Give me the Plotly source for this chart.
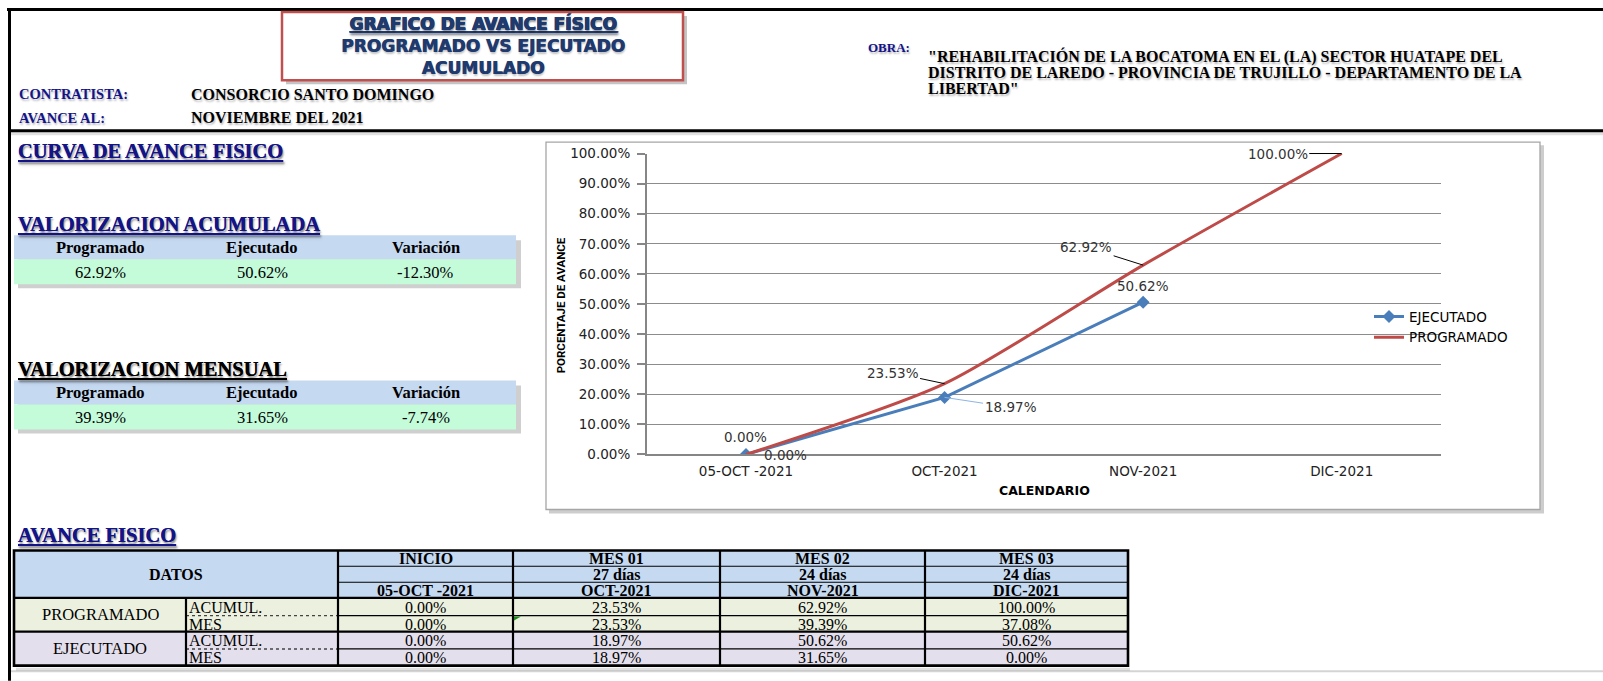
import plotly.graph_objects as go

W, H = 1603, 681
# the page sits 8px down and is scaled a little vertically; paper
# coordinates below are computed against the visible page pixels
OFF, SC = 7.9, 0.9757

# ---- data -----------------------------------------------------------------
categories = ["05-OCT -2021", "OCT-2021", "NOV-2021", "DIC-2021"]
periodos = ["INICIO", "MES 01", "MES 02", "MES 03"]
dias = ["", "27 días", "24 días", "24 días"]
programado_acum = [0.00, 23.53, 62.92, 100.00]
programado_mes = [0.00, 23.53, 39.39, 37.08]
ejecutado_acum = [0.00, 18.97, 50.62, 50.62]
ejecutado_mes = [0.00, 18.97, 31.65, 0.00]
n_ejecutado = 3  # executed curve runs up to NOV-2021

resumen_titulos = ["Programado", "Ejecutado", "Variación"]
resumen_acumulada = [62.92, 50.62, -12.30]
resumen_mensual = [39.39, 31.65, -7.74]

obra_lineas = [
    "\"REHABILITACIÓN DE LA BOCATOMA EN EL (LA) SECTOR HUATAPE DEL",
    "DISTRITO DE LAREDO - PROVINCIA DE TRUJILLO - DEPARTAMENTO DE LA",
    "LIBERTAD\"",
]

# ---- styles ---------------------------------------------------------------
SERIF = "Liberation Serif, Times New Roman, serif"
SANS = "DejaVu Sans, Verdana, sans-serif"
NAVY = "#14148a"
BLUE_HDR = "#c5d9f1"
MINT = "#c4fcda"
ROW_PROG = "#ebf1de"
ROW_EJEC = "#e4dfec"
SHADOW = "1px 2px 2px rgba(0,0,0,0.28)"
C_EJEC = "#4a7ebb"
C_PROG = "#be4b48"
TITLE_C = "#1f3a6e"

shapes = []
annotations = []


def fx(x):
    return x / W


def fy(y):
    return 1 - ((y - OFF) / SC) / H


def rect(x0, y0, x1, y1, fill=None, line=None, lw=0):
    shapes.append(dict(type="rect", xref="paper", yref="paper",
                       x0=fx(x0), x1=fx(x1), y0=fy(y1), y1=fy(y0),
                       fillcolor=fill or "rgba(0,0,0,0)",
                       line=dict(color=line or "rgba(0,0,0,0)", width=lw),
                       layer="below"))


def seg(x0, y0, x1, y1, color="#000", w=1, dash="solid"):
    shapes.append(dict(type="line", xref="paper", yref="paper",
                       x0=fx(x0), x1=fx(x1), y0=fy(y0), y1=fy(y1),
                       line=dict(color=color, width=w, dash=dash), layer="below"))


def text(x, y, s, size, color="#000", family=SERIF, weight="normal",
         xanchor="center", shadow=None):
    f = dict(size=size, color=color, family=family, weight=weight)
    if shadow:
        f["shadow"] = shadow
    annotations.append(dict(xref="paper", yref="paper", x=fx(x), y=fy(y),
                            text=s, showarrow=False, xanchor=xanchor,
                            yanchor="middle", font=f,
                            align="left" if xanchor == "left" else "center"))


def pct(v):
    return f"{v:.2f}%"


# ---- page frame -----------------------------------------------------------
seg(7, 9.5, W, 9.5, "#000", 3)
seg(9.5, 8, 9.5, 680, "#000", 3)
seg(10, 130.5, W, 130.5, "#000", 3)
seg(10, 133.5, W, 133.5, "rgba(0,0,0,0.12)", 3)
seg(11, 670.5, W, 670.5, "#d4d4d4", 2)

# ---- header ---------------------------------------------------------------
rect(286, 16, 687, 84, fill="#c4c4c4")
rect(282, 12, 683, 80, fill="#ffffff", line="#c0504d", lw=2.5)
text(483, 45, "<u>GRAFICO DE AVANCE FÍSICO</u><br>PROGRAMADO VS EJECUTADO<br>ACUMULADO",
     17, TITLE_C, SANS, "bold",
     shadow=f"0.8px 0 0 {TITLE_C}, 1px 2px 2px rgba(0,0,0,0.25)")

text(17, 94, "CONTRATISTA:", 14.5, NAVY, SERIF, "bold", "left", SHADOW)
text(189, 94, "CONSORCIO SANTO DOMINGO", 16, "#000", SERIF, "bold", "left", SHADOW)
text(17, 117.5, "AVANCE AL:", 14.5, NAVY, SERIF, "bold", "left", SHADOW)
text(189, 117.5, "NOVIEMBRE DEL 2021", 16, "#000", SERIF, "bold", "left", SHADOW)

text(866, 47.5, "OBRA:", 13, NAVY, SERIF, "bold", "left", SHADOW)
for i, ln in enumerate(obra_lineas):
    text(926, 56 + 16.2 * i, ln, 16, "#000", SERIF, "bold", "left", SHADOW)

# ---- left summary blocks --------------------------------------------------
text(16, 151, "<u>CURVA DE AVANCE FISICO</u>", 20.5, NAVY, SERIF, "bold", "left", SHADOW)
text(16, 224, "<u>VALORIZACION ACUMULADA</u>", 20.5, NAVY, SERIF, "bold", "left", SHADOW)
text(16, 369, "<u>VALORIZACION MENSUAL</u>", 20.5, "#000", SERIF, "bold", "left", SHADOW)

col_cx = [100, 262, 426]
for top, vals in ((235, resumen_acumulada), (380, resumen_mensual)):
    rect(18, top + 5, 521, top + 53, fill="#cfcfcf")
    rect(14, top, 516, top + 24, fill=BLUE_HDR)
    rect(14, top + 24, 516, top + 49, fill=MINT)
    for cx, t, v in zip(col_cx, resumen_titulos, vals):
        text(cx, top + 12, t, 16.5, "#000", SERIF, "bold")
        text(cx, top + 37, pct(v), 16.5, "#000", SERIF)

# ---- bottom table ---------------------------------------------------------
text(16, 534, "<u>AVANCE FISICO</u>", 20.5, NAVY, SERIF, "bold", "left", SHADOW)

xs = [14, 186, 338, 513, 720, 925, 1128]
ys = [550, 565.7, 581.7, 597.3, 615, 631, 648.3, 665]
rect(16, 667, 1130, 670, fill="rgba(0,0,0,0.12)")
rect(xs[0], ys[0], xs[-1], ys[3], fill=BLUE_HDR)
rect(xs[0], ys[3], xs[-1], ys[5], fill=ROW_PROG)
rect(xs[0], ys[5], xs[-1], ys[7], fill=ROW_EJEC)

text((xs[0] + xs[2]) / 2, 574, "DATOS", 16, "#000", SERIF, "bold")
hdr_rows = [periodos, dias, categories]
for r, row in enumerate(hdr_rows):
    yc = (ys[r] + ys[r + 1]) / 2
    for c, t in enumerate(row):
        if t:
            text((xs[c + 2] + xs[c + 3]) / 2, yc + 0.5, t, 16, "#000", SERIF, "bold")

text((xs[0] + xs[1]) / 2, (ys[3] + ys[5]) / 2, "PROGRAMADO", 16.5, "#000", SERIF)
text((xs[0] + xs[1]) / 2, (ys[5] + ys[7]) / 2, "EJECUTADO", 16.5, "#000", SERIF)
body = [("ACUMUL.", programado_acum), ("MES", programado_mes),
        ("ACUMUL.", ejecutado_acum), ("MES", ejecutado_mes)]
for r, (lab, vals) in enumerate(body):
    yc = (ys[r + 3] + ys[r + 4]) / 2
    text(xs[1] + 1, yc + 0.5, lab, 16, "#000", SERIF, "normal", "left")
    for c, v in enumerate(vals):
        text((xs[c + 2] + xs[c + 3]) / 2, yc + 0.5, pct(v), 16, "#000", SERIF)

# grid lines of the table
for y in (ys[1], ys[2]):
    seg(xs[2], y, xs[-1], y, "#000", 1.2)
for y in (ys[4], ys[6]):
    seg(xs[1], y, xs[2], y, "#444", 1.4, "dot")
    seg(xs[2], y, xs[-1], y, "#000", 1.2)
for y in (ys[3], ys[5]):
    seg(xs[0], y, xs[-1], y, "#000", 2.2)
seg(xs[1], ys[3], xs[1], ys[7], "#000", 2.2)
for x in xs[2:-1]:
    seg(x, ys[0], x, ys[7], "#000", 2.2)
rect(xs[0], ys[0], xs[-1], ys[7], line="#000", lw=2.6)
shapes.append(dict(type="path", xref="paper", yref="paper", layer="above",
                   path=f"M {fx(514)} {fy(615.8)} L {fx(521)} {fy(615.8)} L {fx(514)} {fy(620)} Z",
                   fillcolor="#1a8a1a", line=dict(width=0)))

# ---- chart frame ----------------------------------------------------------
rect(549, 145, 1544, 513, fill="#cdcdcd")
rect(546, 142, 1540, 509, fill="#ffffff", line="#a6a6a6", lw=1.3)

fig = go.Figure()
fig.add_trace(go.Scatter(
    x=categories[:n_ejecutado], y=[v / 100 for v in ejecutado_acum[:n_ejecutado]],
    name="EJECUTADO", mode="lines+markers", legendgroup="e",
    line=dict(color=C_EJEC, width=3),
    marker=dict(symbol="diamond", size=10, color=C_EJEC)))
fig.add_trace(go.Scatter(
    x=categories, y=[v / 100 for v in programado_acum],
    name="PROGRAMADO", mode="lines", legendgroup="p",
    line=dict(color=C_PROG, width=3, shape="spline", smoothing=0.7)))

# point labels
LBL = dict(size=13.5, color="#333333", family=SANS)


def point_label(i, v, xshift=0, yshift=0, ax=None, ay=None, arrow="#000"):
    a = dict(xref="x", yref="y", x=categories[i], y=v / 100, text=pct(v), font=LBL)
    if ax is None:
        a.update(showarrow=False, xshift=xshift, yshift=yshift)
    else:
        a.update(showarrow=True, ax=ax, ay=ay, arrowhead=0, arrowwidth=1,
                 arrowcolor=arrow, standoff=0)
    annotations.append(a)


point_label(0, programado_acum[0], yshift=17)
point_label(0, ejecutado_acum[0], xshift=40, yshift=-1)
point_label(1, programado_acum[1], ax=-52, ay=-11)
point_label(1, ejecutado_acum[1], ax=66, ay=10, arrow="#8eb4e3")
point_label(2, programado_acum[2], ax=-57, ay=-18)
point_label(2, ejecutado_acum[2], yshift=16)
point_label(3, programado_acum[3], ax=-64, ay=0)

# axis titles
annotations.append(dict(xref="paper", yref="paper", x=fx(561), y=fy(305),
                        xanchor="center", yanchor="middle",
                        text="PORCENTAJE DE AVANCE", textangle=-90, showarrow=False,
                        font=dict(size=11.5, family="Liberation Sans Narrow, Roboto, sans-serif",
                                  weight="bold", color="#000")))
annotations.append(dict(xref="paper", yref="paper", x=fx(1044), y=fy(490),
                        xanchor="center", yanchor="middle",
                        text="CALENDARIO", showarrow=False,
                        font=dict(size=12.5, family=SANS, weight="bold", color="#000")))

fig.update_layout(
    width=W, height=H, margin=dict(l=0, r=0, t=0, b=0),
    paper_bgcolor="#ffffff", plot_bgcolor="rgba(0,0,0,0)",
    shapes=shapes, annotations=annotations,
    showlegend=True,
    legend=dict(x=fx(1369), y=fy(301), xanchor="left", yanchor="top",
                bgcolor="rgba(0,0,0,0)", font=dict(size=13.5, family=SANS, color="#000"),
                tracegroupgap=3, traceorder="normal"),
    xaxis=dict(domain=[fx(646.7), fx(1441)], type="category", range=[-0.5, 3.5],
               showline=True, linecolor="#868686", linewidth=1.5, showgrid=False,
               ticks="", tickfont=dict(size=13.5, family=SANS, color="#222"),
               ticklabelstandoff=4, fixedrange=True),
    yaxis=dict(domain=[fy(454), fy(153.3)], range=[0, 1], tick0=0, dtick=0.1,
               tickformat=".2%", showgrid=True, gridcolor="#8c8c8c", gridwidth=1.3,
               showline=True, linecolor="#868686", linewidth=1.5, zeroline=False,
               ticks="outside", ticklen=8, tickcolor="#868686", tickwidth=1.5,
               tickfont=dict(size=13.5, family=SANS, color="#222"),
               ticklabelstandoff=4, fixedrange=True),
)

fig.write_html("out.html")
